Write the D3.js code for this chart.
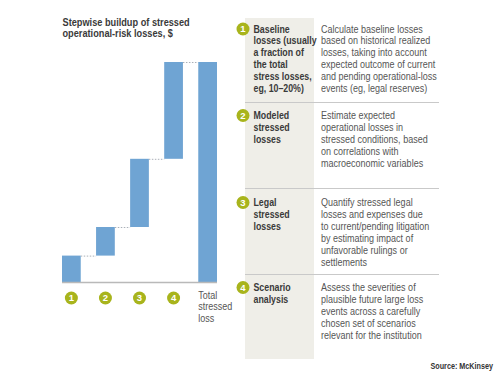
<!DOCTYPE html>
<html>
<head>
<meta charset="utf-8">
<script src="https://cdn.jsdelivr.net/npm/d3@7"></script>
<style>
  html, body { margin: 0; padding: 0; background: #fff; }
  svg { display: block; }
  text { font-family: "Liberation Sans", Arial, Helvetica, sans-serif; }
</style>
</head>
<body>
<div id="chart"></div>
<script>
// ---- data ----
const categories = ["1", "2", "3", "4", "Total"];
const stepValues = [12, 13, 31, 44];
const titleLines = ["Stepwise buildup of stressed", "operational-risk losses, $"];
const totalLabel = ["Total", "stressed", "loss"];
const stepNames = [
  ["Baseline", "losses (usually", "a fraction of", "the total", "stress losses,", "eg, 10\u201320%)"],
  ["Modeled", "stressed", "losses"],
  ["Legal", "stressed", "losses"],
  ["Scenario", "analysis"]
];
const stepDescriptions = [
  ["Calculate baseline losses", "based on historical realized", "losses, taking into account", "expected outcome of current", "and pending operational-loss", "events (eg, legal reserves)"],
  ["Estimate expected", "operational losses in", "stressed conditions, based", "on correlations with", "macroeconomic variables"],
  ["Quantify stressed legal", "losses and expenses due", "to current/pending litigation", "by estimating impact of", "unfavorable rulings or", "settlements"],
  ["Assess the severities of", "plausible future large loss", "events across a carefully", "chosen set of scenarios", "relevant for the institution"]
];
const sourceText = "Source: McKinsey";

// ---- derived waterfall ----
let cum = 0;
const bars = stepValues.map((v, i) => { const b = { key: categories[i], y0: cum, y1: cum + v }; cum += v; return b; });
bars.push({ key: "Total", y0: 0, y1: cum });

const W = 500, H = 375;
const svg = d3.select("#chart").append("svg").attr("width", W).attr("height", H);

const barColor = "#6fa4d3";
const badgeColor = "#a8b41c";
const NARROW = 0.82;

// narrow multi-line text block (horizontally condensed like Helvetica Narrow)
function narrowText(parent, x0, y0, lines, opts) {
  const g = parent.append("g").attr("transform", `translate(${x0},${y0}) scale(${opts.sx || NARROW},1)`);
  const t = g.append("text").attr("font-size", opts.size).attr("fill", opts.fill)
    .attr("font-weight", opts.weight || "normal").attr("text-anchor", opts.anchor || "start");
  t.selectAll("tspan").data(lines).join("tspan")
    .attr("x", 0).attr("y", (d, i) => i * opts.lh).text(d => d);
  return g;
}

const x = d3.scaleBand().domain(categories).range([62, 217]).paddingInner(0.45).paddingOuter(0);
const y = d3.scaleLinear().domain([0, 100]).range([282, 62]);

// title
narrowText(svg, 62.5, 26, titleLines, { size: 11.5, lh: 11.5, weight: "bold", fill: "#3a3a3a", sx: 0.8 });

// connectors
svg.append("g").selectAll("line").data(bars.slice(0, bars.length - 1)).join("line")
  .attr("x1", d => x(d.key) + x.bandwidth())
  .attr("x2", (d, i) => x(categories[i + 1]))
  .attr("y1", d => y(d.y1) + 0.5).attr("y2", d => y(d.y1) + 0.5)
  .attr("stroke", "#aab0b8").attr("stroke-width", 1).attr("stroke-dasharray", "1.5,1.5");

// bars
svg.append("g").selectAll("rect").data(bars).join("rect")
  .attr("x", d => x(d.key)).attr("width", x.bandwidth())
  .attr("y", d => y(d.y1)).attr("height", d => y(d.y0) - y(d.y1))
  .attr("fill", barColor);

// baseline axis
svg.append("line").attr("x1", x.range()[0]).attr("x2", x.range()[1])
  .attr("y1", y(0) + 0.5).attr("y2", y(0) + 0.5).attr("stroke", "#b9b9b9").attr("stroke-width", 1.5);

// badges
const badge = (g, cx, cy, label) => {
  g.append("circle").attr("cx", cx).attr("cy", cy).attr("r", 6.5).attr("fill", badgeColor);
  g.append("text").attr("x", cx).attr("y", cy + 3.3).attr("text-anchor", "middle")
    .attr("font-size", 9.5).attr("font-weight", "bold").attr("fill", "#fff").text(label);
};
const bg = svg.append("g");
categories.slice(0, 4).forEach(c => badge(bg, x(c) + x.bandwidth() / 2, 298, c));

narrowText(svg, x("Total"), 299, totalLabel, { size: 11, lh: 11.5, fill: "#555" });

// right panel
svg.append("rect").attr("x", 245).attr("y", 18).attr("width", 69).attr("height", 341).attr("fill", "#efeee8");

const sectionTops = [32.5, 119, 206, 291];
const separators = [102, 188, 274];
svg.append("g").selectAll("line").data(separators).join("line")
  .attr("x1", 245).attr("x2", 439).attr("y1", d => d + 0.5).attr("y2", d => d + 0.5)
  .attr("stroke", "#c9c9c9").attr("stroke-width", 1);

stepNames.forEach((lines, i) => {
  const by = sectionTops[i];
  badge(svg, 243, by - 3.5, String(i + 1));
  narrowText(svg, 253.5, by, lines, { size: 11, lh: 12, weight: "bold", fill: "#3a3a3a", sx: 0.8 });
  narrowText(svg, 321, by, stepDescriptions[i], { size: 11, lh: 12, fill: "#555" });
});

narrowText(svg, 493, 369, [sourceText], { size: 8.5, lh: 10, weight: "bold", fill: "#333", anchor: "end", sx: 0.85 });
</script>
</body>
</html>
